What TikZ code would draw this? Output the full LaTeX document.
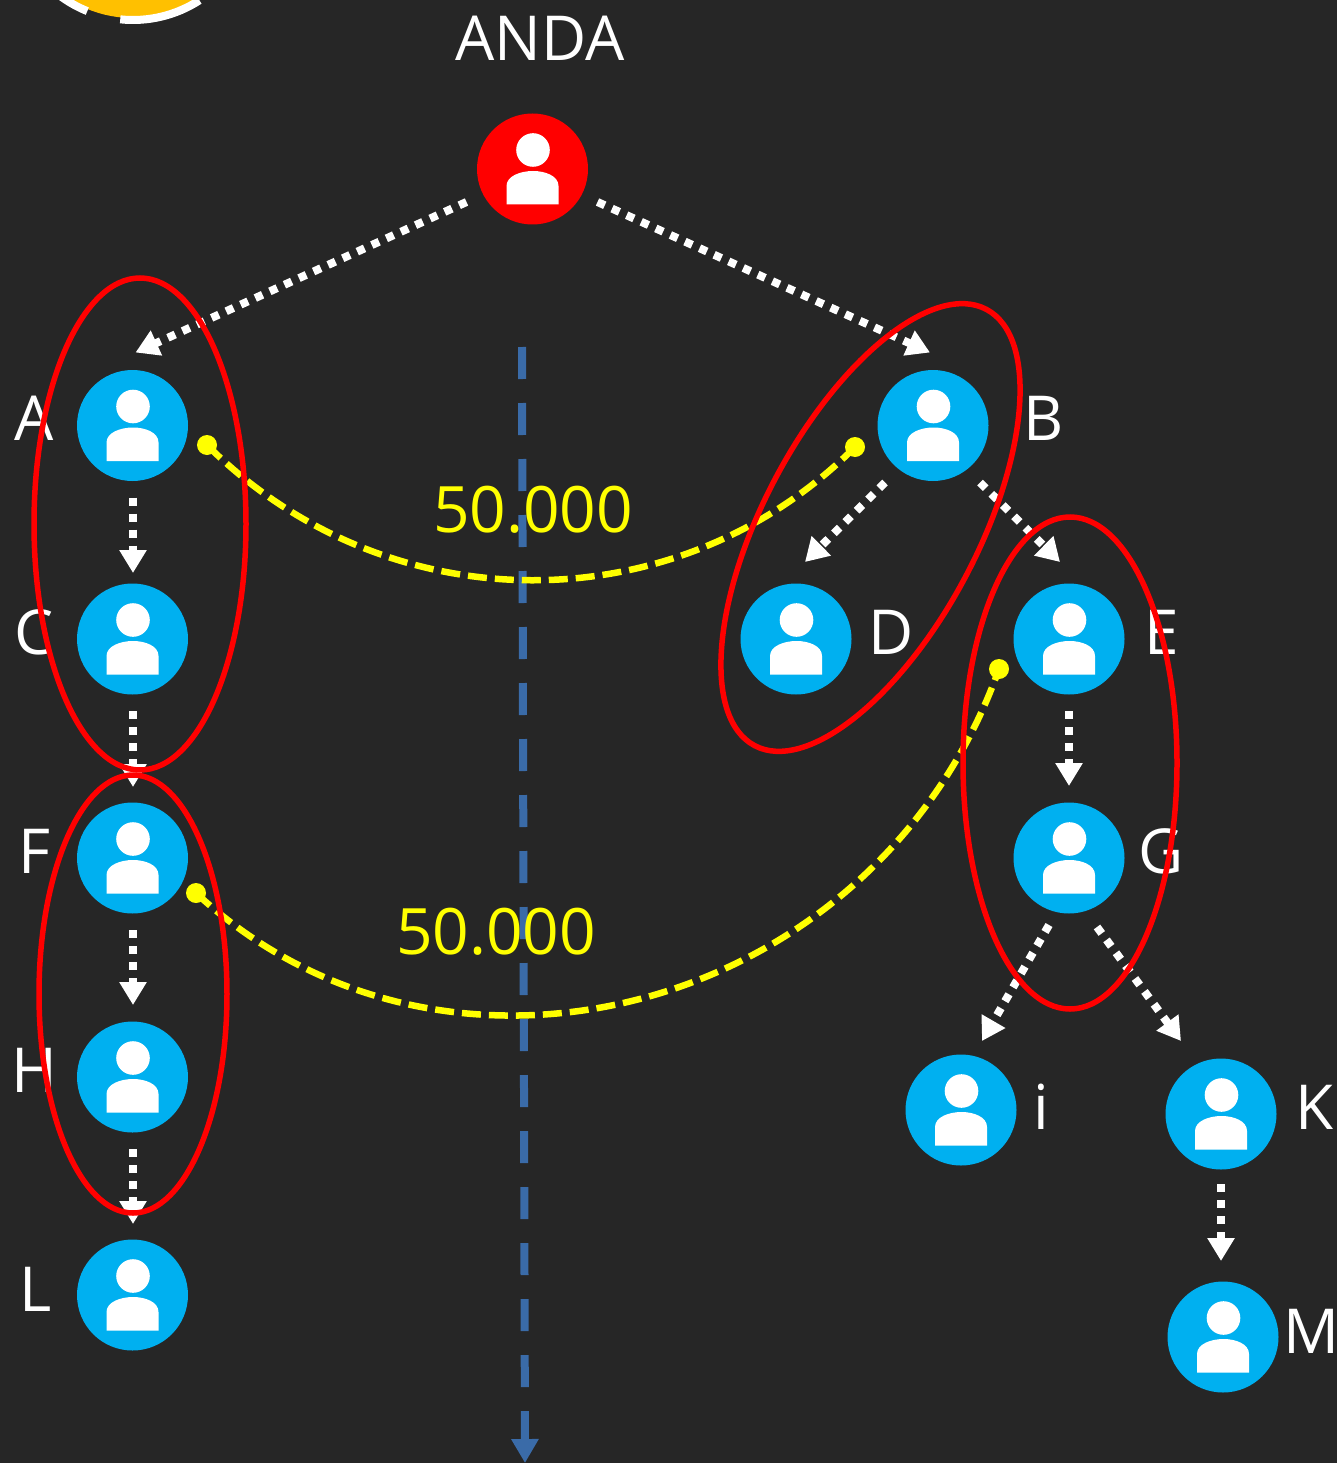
\documentclass[tikz,border=0pt]{standalone}
\usepackage{fontspec}
\setmainfont{Open Sans}
\usetikzlibrary{arrows.meta,calc}
\definecolor{bgdark}{HTML}{262626}
\definecolor{userblue}{HTML}{00B0F0}
\definecolor{axisblue}{HTML}{3A6BA8}
\definecolor{sunorange}{HTML}{FFC000}
\definecolor{ybright}{RGB}{255,255,0}
\tikzset{
  x=1pt,y=1pt,
  person/.style={circle,fill=#1,minimum size=111pt,inner sep=0pt,draw=none,
    path picture={
      \begin{scope}[shift={(path picture bounding box.center)}]
        \fill[white] (0.5,19) circle[radius=16.8];
        \fill[white] (-26,-35.5) -- (-26,-17) .. controls (-26,-7) and (-12,-2) .. (0.5,-2)
          .. controls (13,-2) and (26,-7) .. (26,-17) -- (26,-35.5) -- cycle;
      \end{scope}}},
  nm/.style={text=white,font=\fontsize{62}{70}\selectfont,inner sep=0pt},
  amount/.style={text=ybright,font=\fontsize{64}{70}\selectfont,inner sep=0pt},
  flow/.style={draw=white,line width=8pt,dash pattern=on 8pt off 8pt,
    -{Triangle[length=23pt,width=26pt,fill=white]}},
  group/.style={draw=red,line width=5.5pt},
  share/.style={draw=ybright,line width=6.5pt,dash pattern=on 19pt off 8pt},
  ydot/.style={circle,fill=ybright,minimum size=20pt,inner sep=0pt},
  axis/.style={draw=axisblue,line width=8pt,dash pattern=on 32pt off 24pt,
    -{Triangle[length=24pt,width=26pt,fill=axisblue]}},
}
\begin{document}
\begin{tikzpicture}
\useasboundingbox (0,0) rectangle (1337,-1463);
\fill[bgdark] (0,0) rectangle (1337,-1463);
% partial badge at the top
\begin{scope}
  \clip (0,0) rectangle (1337,-1463);
  \fill[sunorange] (133,102) circle[radius=120];
  \draw[white,line width=8pt] (133,102) ++(-57:122) arc[start angle=-57,end angle=-96,radius=122];
  \draw[white,line width=8pt] (133,102) ++(-112:122) arc[start angle=-112,end angle=-135,radius=122];
\end{scope}
% axis
\coordinate (axistop) at (522,-347);
\coordinate (axisend) at (525,-1463);
\draw[axis] (axistop) -- (axisend);
% people
\node[person=red] (P) at (532.5,-169) {};
\node[person=userblue] (A) at (132.5,-425.5) {};
\node[person=userblue] (C) at (132.5,-639) {};
\node[person=userblue] (F) at (132.5,-858) {};
\node[person=userblue] (H) at (132.5,-1077) {};
\node[person=userblue] (L) at (132.5,-1295) {};
\node[person=userblue] (B) at (933,-425.5) {};
\node[person=userblue] (D) at (796,-639) {};
\node[person=userblue] (E) at (1069,-639) {};
\node[person=userblue] (G) at (1069,-858) {};
\node[person=userblue] (I) at (961,-1110) {};
\node[person=userblue] (K) at (1221,-1114) {};
\node[person=userblue] (M) at (1223,-1337) {};
% labels
\node[nm] (lP) at (540,-38) {ANDA};
\node[nm] (lA) at (34,-418) {A};
\node[nm] (lC) at (34,-632) {C};
\node[nm] (lF) at (34,-851) {F};
\node[nm] (lH) at (34,-1070) {H};
\node[nm] (lL) at (36,-1289) {L};
\node[nm] (lB) at (1044,-418) {B};
\node[nm] (lD) at (891,-632) {D};
\node[nm] (lE) at (1162,-632) {E};
\node[nm] (lG) at (1161,-851) {G};
\node[nm] (lI) at (1041,-1107) {i};
\node[nm] (lK) at (1315,-1107) {K};
\node[nm] (lM) at (1311,-1331) {M};
% arrows
\draw[flow] ($(P)+(-66,-33)$) -- ($(A)+(3,73)$);
\draw[flow] ($(P)+(65,-33)$) -- ($(B)+(-3,73)$);
\draw[flow] ($(A)+(0.5,-72)$) -- ($(C)+(0.5,66)$);
\draw[flow] ($(C)+(0.5,-72)$) -- ($(F)+(0.5,71)$);
\draw[flow] ($(F)+(0.5,-72)$) -- ($(H)+(0.5,72)$);
\draw[flow] ($(H)+(0.5,-72)$) -- ($(L)+(0.5,71)$);
\draw[flow] ($(B)+(-48,-57)$) -- ($(D)+(9,77)$);
\draw[flow] ($(B)+(47,-57)$) -- ($(E)+(-9,77)$);
\draw[flow] ($(E)+(0,-72)$) -- ($(G)+(0,72)$);
\draw[flow] ($(G)+(-20,-67)$) -- ($(I)+(21,69)$);
\draw[flow] ($(G)+(28,-69)$) -- ($(K)+(-40,73)$);
\draw[flow] ($(K)+(0,-70)$) -- ($(M)+(-2,76)$);
% yellow transfers
\node[ydot] (y1) at (207,-445) {};
\node[ydot] (y2) at (855,-447) {};
\node[ydot] (y3) at (196,-893) {};
\node[ydot] (y4) at (999,-669) {};
\draw[share] (y1.center) .. controls (386,-624) and (676,-626) .. (y2.center);
\draw[share] (y3.center) .. controls (445,-1125) and (875,-1015) .. (y4.center);
\node[amount] (n1) at (533,-510) {50.000};
\node[amount] (n2) at (496,-932) {50.000};
% red groups
\draw[group] (140,-524) ellipse[x radius=106,y radius=246];
\draw[group] (133,-994) ellipse[x radius=94,y radius=219];
\draw[group,rotate around={-28:(870.5,-527.5)}] (870.5,-527.5) ellipse[x radius=107,y radius=247];
\draw[group] (1070,-763) ellipse[x radius=107,y radius=246];
\end{tikzpicture}
\end{document}
